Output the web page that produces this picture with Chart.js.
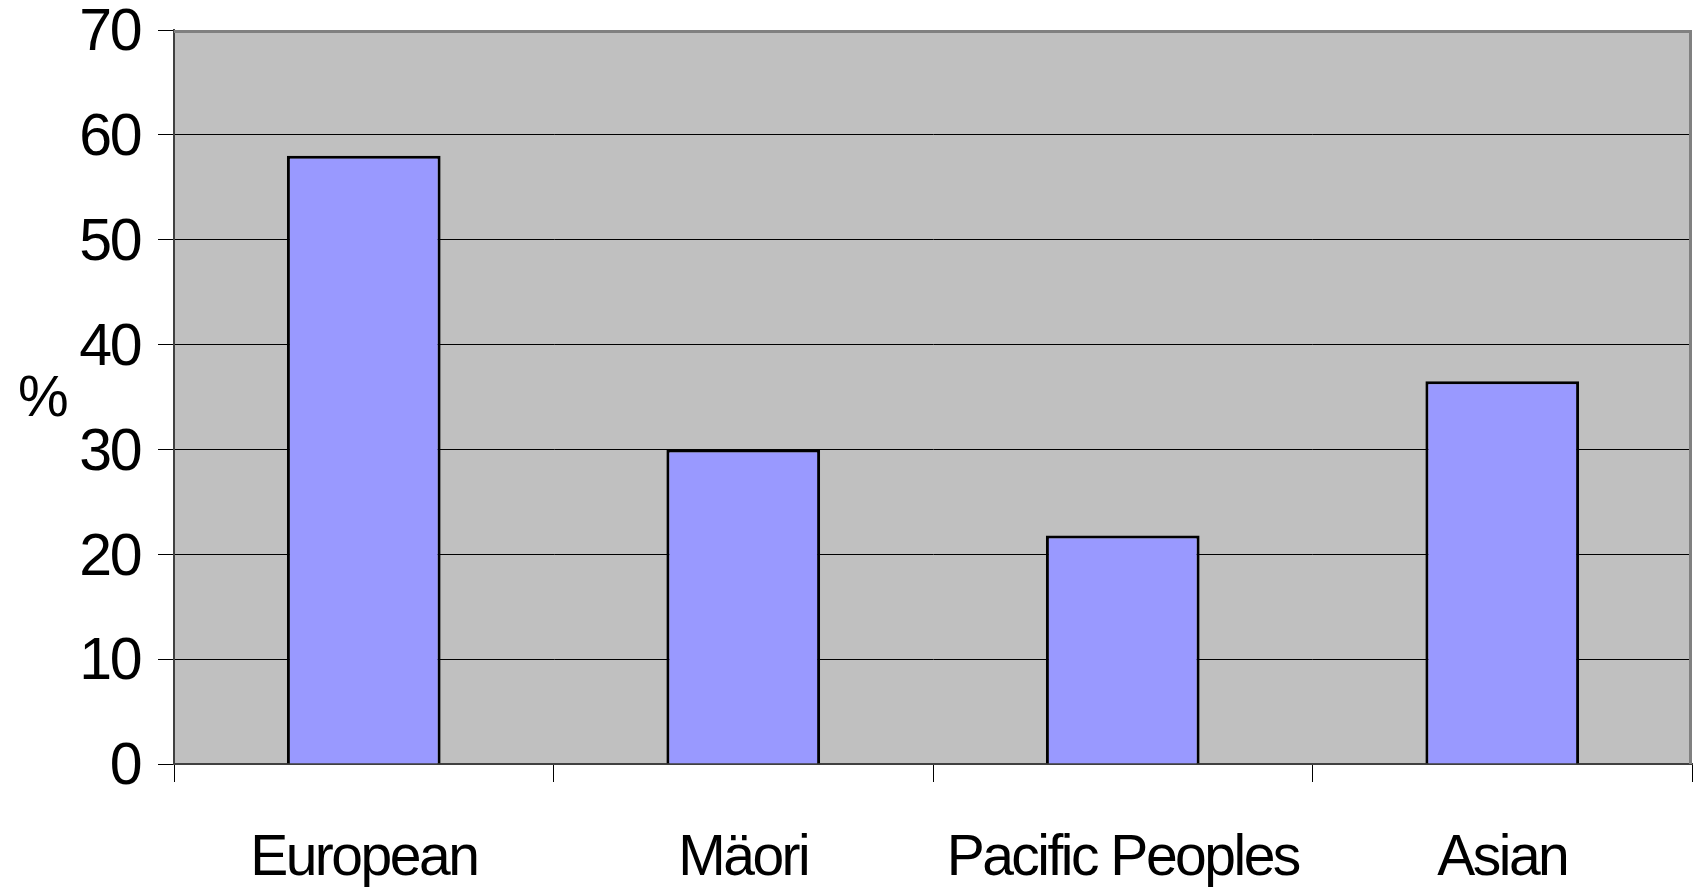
<!DOCTYPE html>
<html>
<head>
<meta charset="utf-8">
<script src="https://cdn.jsdelivr.net/npm/chart.js@4/dist/chart.umd.min.js"></script>
<style>
  html, body { margin: 0; padding: 0; background: #ffffff; }
  #wrap { width: 1700px; height: 887px; }
</style>
</head>
<body>
<div id="wrap"><canvas id="chart"></canvas></div>
<script>
// Share of each ethnic group (%)
const categories = ['European', 'Mäori', 'Pacific Peoples', 'Asian'];
const percentValues = [58.0, 30.0, 21.8, 36.5];
const yAxisMin = 0;
const yAxisMax = 70;
const yAxisStep = 10;
const yAxisTitle = '%';

const FONT_FAMILY = "'Liberation Sans', Arial, sans-serif";
const Y_FONT_SIZE = 59;
const X_FONT_SIZE = 57;
const LETTER_SPACING = '-2.5px';

// Tight letter spacing, gray plot background and frame, horizontal "%" title
const plotDecor = {
  id: 'plotDecor',
  beforeLayout(chart) { chart.ctx.letterSpacing = LETTER_SPACING; },
  beforeDraw(chart) {
    const { ctx, chartArea: a } = chart;
    ctx.letterSpacing = LETTER_SPACING;
    ctx.save();
    ctx.fillStyle = '#c0c0c0';
    ctx.fillRect(a.left, a.top, a.right - a.left, a.bottom - a.top);
    ctx.restore();
  },
  afterDatasetsDraw(chart) {
    const { ctx, chartArea: a } = chart;
    ctx.save();
    ctx.strokeStyle = '#808080';
    ctx.lineWidth = 3;
    ctx.beginPath();
    ctx.moveTo(a.left, a.top + 1.5);
    ctx.lineTo(a.right - 1.5, a.top + 1.5);
    ctx.lineTo(a.right - 1.5, a.bottom);
    ctx.stroke();
    ctx.restore();
  },
  afterDraw(chart) {
    const { ctx, chartArea: a } = chart;
    ctx.save();
    ctx.letterSpacing = LETTER_SPACING;
    ctx.fillStyle = '#000000';
    ctx.font = X_FONT_SIZE + 'px ' + FONT_FAMILY;
    ctx.textAlign = 'center';
    ctx.textBaseline = 'middle';
    ctx.fillText(yAxisTitle, 42, (a.top + a.bottom) / 2 + 3);
    ctx.restore();
  }
};

new Chart(document.getElementById('chart'), {
  type: 'bar',
  data: {
    labels: categories,
    datasets: [{
      data: percentValues,
      backgroundColor: '#9999ff',
      borderColor: '#000000',
      borderWidth: 3,
      borderSkipped: 'bottom',
      categoryPercentage: 0.405,
      barPercentage: 1.0
    }]
  },
  options: {
    responsive: true,
    maintainAspectRatio: false,
    animation: false,
    events: [],
    layout: { padding: { top: 30, right: 8, left: 0, bottom: 0 } },
    plugins: {
      legend: { display: false },
      tooltip: { enabled: false },
      title: { display: false }
    },
    scales: {
      x: {
        grid: {
          offset: true,
          drawOnChartArea: false,
          drawTicks: true,
          tickLength: 18,
          tickColor: '#000000',
          tickWidth: 1
        },
        border: { display: true, color: '#404040', width: 2 },
        ticks: {
          color: '#000000',
          padding: 43,
          maxRotation: 0,
          font: { family: FONT_FAMILY, size: X_FONT_SIZE }
        },
        afterFit(scale) {
          scale.height = 123;
          scale.paddingLeft = 0;
          scale.paddingRight = 0;
        }
      },
      y: {
        min: yAxisMin,
        max: yAxisMax,
        grid: {
          color: (c) => (c.tick && c.tick.value === yAxisMax) ? 'rgba(0,0,0,0)' : '#000000',
          lineWidth: 1,
          drawTicks: true,
          tickLength: 16,
          tickColor: '#000000',
          tickWidth: 1
        },
        border: { display: true, color: '#404040', width: 2 },
        ticks: {
          stepSize: yAxisStep,
          color: '#000000',
          padding: 18,
          labelOffset: 4,
          font: { family: FONT_FAMILY, size: Y_FONT_SIZE }
        },
        afterFit(scale) {
          scale.width = 174;
          scale.paddingTop = 0;
          scale.paddingBottom = 0;
        }
      }
    }
  },
  plugins: [plotDecor]
});
</script>
</body>
</html>
